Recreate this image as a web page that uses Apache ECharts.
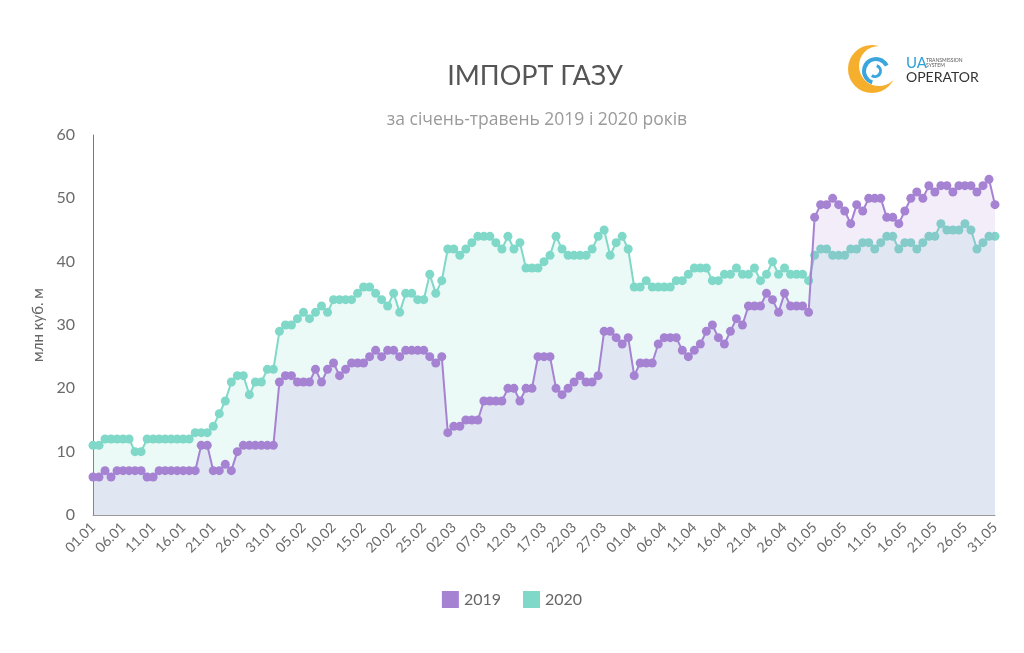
<!DOCTYPE html>
<html>
<head>
<meta charset="utf-8">
<script src="https://cdn.jsdelivr.net/npm/echarts@6/dist/echarts.min.js"></script>
<style>html,body{margin:0;padding:0;background:#fff}#c{width:1024px;height:653px}</style>
</head>
<body>
<div id="c"></div>
<script>
// Categories: days 01.01 – 31.05
const monthDays = [31, 28, 31, 30, 31];
const categories = [];
monthDays.forEach((n, m) => {
  for (let d = 1; d <= n; d++) {
    categories.push(String(d).padStart(2, '0') + '.' + String(m + 1).padStart(2, '0'));
  }
});

const seriesNames = ['2019', '2020'];

const values2019 = [
  6,6,7,6,7,7,7,7,7,6,6,7,7,7,7,7,7,7,11,11,7,7,8,7,10,
  11,11,11,11,11,11,21,22,22,21,21,21,23,21,23,24,22,23,24,24,24,25,26,25,26,
  26,25,26,26,26,26,25,24,25,13,14,14,15,15,15,18,18,18,18,20,20,18,20,20,25,
  25,25,20,19,20,21,22,21,21,22,29,29,28,27,28,22,24,24,24,27,28,28,28,26,25,
  26,27,29,30,28,27,29,31,30,33,33,33,35,34,32,35,33,33,33,32,47,49,49,50,49,
  48,46,49,48,50,50,50,47,47,46,48,50,51,50,52,51,52,52,51,52,52,52,51,52,53,49
];

const values2020 = [
  11,11,12,12,12,12,12,10,10,12,12,12,12,12,12,12,12,13,13,13,14,16,18,21,22,
  22,19,21,21,23,23,29,30,30,31,32,31,32,33,32,34,34,34,34,35,36,36,35,34,33,
  35,32,35,35,34,34,38,35,37,42,42,41,42,43,44,44,44,43,42,44,42,43,39,39,39,
  40,41,44,42,41,41,41,41,42,44,45,41,43,44,42,36,36,37,36,36,36,36,37,37,38,
  39,39,39,37,37,38,38,39,38,38,39,37,38,40,38,39,38,38,38,37,41,42,42,41,41,
  41,42,42,43,43,42,43,44,44,42,43,43,42,43,44,44,46,45,45,45,46,45,42,43,44,44
];

const yTicks = { min: 0, max: 60, interval: 10 };

const chart = echarts.init(document.getElementById('c'));
const purple = '#a682d2';
const teal = '#7fd8c8';

chart.setOption({
  animation: false,
  backgroundColor: '#ffffff',
  title: [
    { text: 'ІМПОРТ ГАЗУ', left: 530, top: 58, textAlign: 'center',
      textStyle: { fontFamily: 'Lato', fontSize: 27, fontWeight: 'normal', color: '#555555' } },
    { text: 'за січень-травень 2019 і 2020 років', left: 532, top: 106, textAlign: 'center',
      textStyle: { fontFamily: 'Open Sans', fontSize: 17.5, fontWeight: 'normal', color: '#9a9a9a' } }
  ],
  legend: {
    data: seriesNames,
    bottom: 40,
    left: 'center',
    itemWidth: 17, itemHeight: 17, itemGap: 22,
    icon: 'rect',
    textStyle: { fontFamily: 'Lato', fontSize: 16, color: '#666666' }
  },
  grid: { left: 93, right: 29, top: 135, bottom: 138 },
  xAxis: {
    type: 'category',
    data: categories,
    boundaryGap: false,
    axisLine: { lineStyle: { color: '#9a9a9a', width: 1 } },
    axisTick: { show: false },
    axisLabel: { interval: 4, rotate: 45, fontFamily: 'Lato', fontSize: 14, color: '#6b6b6b', margin: 10 }
  },
  yAxis: {
    type: 'value',
    min: yTicks.min, max: yTicks.max, interval: yTicks.interval,
    name: 'млн куб. м',
    nameLocation: 'middle',
    nameRotate: 90,
    nameGap: 47,
    nameTextStyle: { fontFamily: 'Lato', fontSize: 15, color: '#666666' },
    axisLine: { show: true, lineStyle: { color: '#7a7a7a', width: 1 } },
    axisTick: { show: false },
    splitLine: { show: false },
    axisLabel: { fontFamily: 'Lato', fontSize: 16, color: '#6b6b6b', margin: 18 }
  },
  series: [
    {
      name: seriesNames[0], type: 'line', data: values2019,
      symbol: 'circle', symbolSize: 9, showAllSymbol: true,
      lineStyle: { color: purple, width: 2 },
      itemStyle: { color: purple },
      areaStyle: { color: 'rgba(166,130,210,0.2)' },
      z: 3
    },
    {
      name: seriesNames[1], type: 'line', data: values2020,
      symbol: 'circle', symbolSize: 9, showAllSymbol: true,
      lineStyle: { color: teal, width: 2 },
      itemStyle: { color: teal },
      areaStyle: { color: 'rgba(127,216,200,0.22)' },
      z: 2
    }
  ],
  graphic: [
    { type: 'circle', shape: { cx: 872, cy: 69, r: 24 }, style: { fill: '#f6ae2d' }, z: 10 },
    { type: 'circle', shape: { cx: 879, cy: 66, r: 20 }, style: { fill: '#ffffff' }, z: 11 },
    { type: 'sector', shape: { cx: 876, cy: 71, r: 14, r0: 10, startAngle: Math.PI * 0.6, endAngle: Math.PI * 1.85 }, style: { fill: '#3aa6dd' }, z: 12 },
    { type: 'sector', shape: { cx: 875, cy: 71, r: 7, r0: 4, startAngle: -Math.PI * 0.4, endAngle: Math.PI * 0.7 }, style: { fill: '#3aa6dd' }, z: 12 },
    { type: 'text', left: 906, top: 56, style: { text: 'UA', fill: '#2f9fd8', font: '15px Lato' }, z: 12 },
    { type: 'text', left: 926, top: 58, style: { text: 'TRANSMISSION\nSYSTEM', fill: '#555555', font: '5px Lato', lineHeight: 5 }, z: 12 },
    { type: 'text', left: 906, top: 70, style: { text: 'OPERATOR', fill: '#333333', font: '14px Lato' }, z: 12 }
  ]
});
</script>
</body>
</html>
